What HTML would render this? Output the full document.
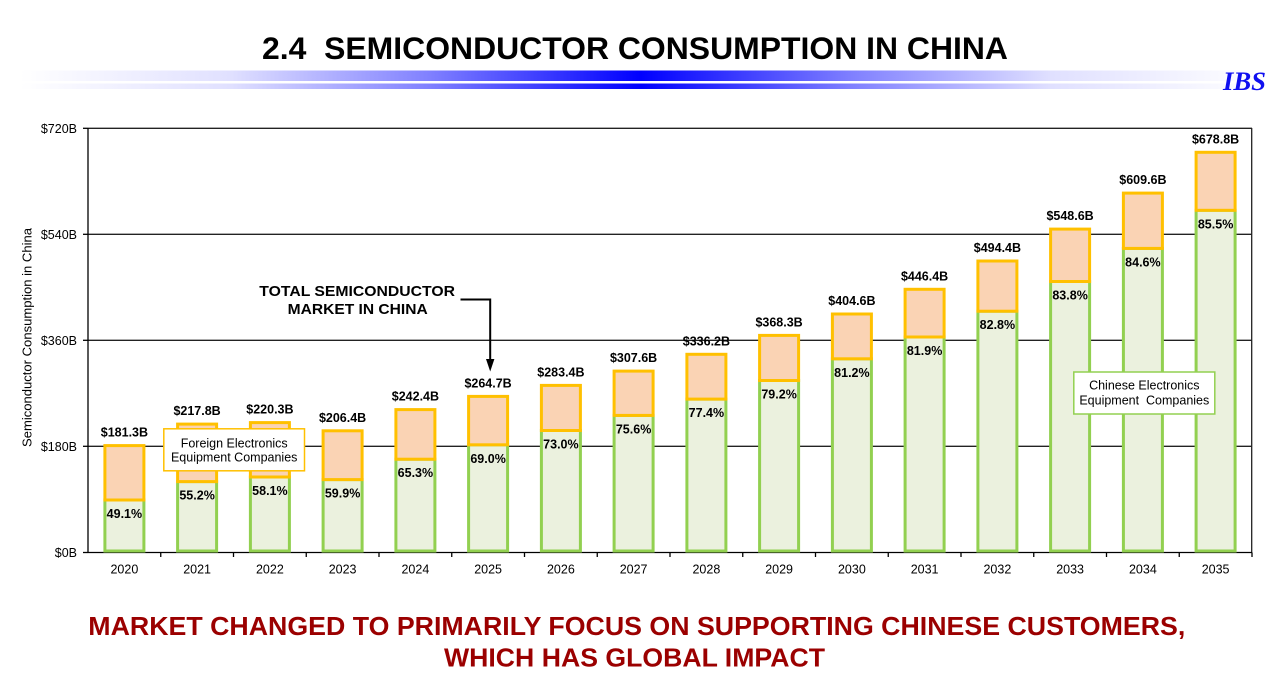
<!DOCTYPE html>
<html><head><meta charset="utf-8"><style>
html,body{margin:0;padding:0;background:#fff;}
svg{display:block;}
text{font-family:"Liberation Sans",Arial,sans-serif;}
</style></head><body>
<svg width="1275" height="681" viewBox="0 0 1275 681" xmlns="http://www.w3.org/2000/svg">
<defs>
<linearGradient id="gb" x1="20" y1="0" x2="1262" y2="0" gradientUnits="userSpaceOnUse">
<stop offset="0" stop-color="#ffffff"/>
<stop offset="0.17" stop-color="#e0e0ff"/>
<stop offset="0.33" stop-color="#8080ff"/>
<stop offset="0.5" stop-color="#0000ff"/>
<stop offset="0.67" stop-color="#8080ff"/>
<stop offset="0.83" stop-color="#e0e0ff"/>
<stop offset="1" stop-color="#ffffff"/>
</linearGradient>
</defs>
<rect width="1275" height="681" fill="#fff"/>
<!-- Title -->
<text x="262" y="59" font-size="31.5" font-weight="bold" fill="#000" textLength="746" lengthAdjust="spacingAndGlyphs" style="white-space:pre">2.4  SEMICONDUCTOR CONSUMPTION IN CHINA</text>
<rect x="20" y="70.5" width="1242" height="10.5" fill="url(#gb)"/>
<rect x="20" y="83.5" width="1242" height="5.5" fill="url(#gb)"/>
<text x="1223" y="90" font-family="Liberation Serif, serif" font-size="26" font-weight="bold" font-style="italic" fill="#1010f0" textLength="43" lengthAdjust="spacingAndGlyphs" style="font-family:'Liberation Serif',serif">IBS</text>

<!-- Plot frame and gridlines -->
<g stroke="#222" stroke-width="1.3" fill="none">
<line x1="88" y1="128.3" x2="1252" y2="128.3"/>
<line x1="88" y1="234.3" x2="1252" y2="234.3"/>
<line x1="88" y1="340.3" x2="1252" y2="340.3"/>
<line x1="88" y1="446.3" x2="1252" y2="446.3"/>
<line x1="1251.7" y1="128" x2="1251.7" y2="552.5"/>
</g>
<g stroke="#000" stroke-width="1.3">
<line x1="88" y1="128" x2="88" y2="553"/>
<line x1="88" y1="552.5" x2="1252" y2="552.5"/>
<line x1="83" y1="128.3" x2="88" y2="128.3"/>
<line x1="83" y1="234.3" x2="88" y2="234.3"/>
<line x1="83" y1="340.3" x2="88" y2="340.3"/>
<line x1="83" y1="446.3" x2="88" y2="446.3"/>
<line x1="83" y1="552.5" x2="88" y2="552.5"/>
<line x1="160.75" y1="552.5" x2="160.75" y2="557"/>
<line x1="233.5" y1="552.5" x2="233.5" y2="557"/>
<line x1="306.25" y1="552.5" x2="306.25" y2="557"/>
<line x1="379" y1="552.5" x2="379" y2="557"/>
<line x1="451.75" y1="552.5" x2="451.75" y2="557"/>
<line x1="524.5" y1="552.5" x2="524.5" y2="557"/>
<line x1="597.25" y1="552.5" x2="597.25" y2="557"/>
<line x1="670" y1="552.5" x2="670" y2="557"/>
<line x1="742.75" y1="552.5" x2="742.75" y2="557"/>
<line x1="815.5" y1="552.5" x2="815.5" y2="557"/>
<line x1="888.25" y1="552.5" x2="888.25" y2="557"/>
<line x1="961" y1="552.5" x2="961" y2="557"/>
<line x1="1033.75" y1="552.5" x2="1033.75" y2="557"/>
<line x1="1106.5" y1="552.5" x2="1106.5" y2="557"/>
<line x1="1179.25" y1="552.5" x2="1179.25" y2="557"/>
<line x1="1252" y1="552.5" x2="1252" y2="557"/>
</g>

<!-- Y axis labels -->
<g font-size="12.5" fill="#000" text-anchor="end">
<text x="77" y="133">$720B</text>
<text x="77" y="239">$540B</text>
<text x="77" y="345">$360B</text>
<text x="77" y="451">$180B</text>
<text x="77" y="557">$0B</text>
</g>
<text transform="translate(31.5,337.5) rotate(-90)" text-anchor="middle" font-size="12.5" fill="#000" textLength="219" lengthAdjust="spacingAndGlyphs">Semiconductor Consumption in China</text>

<!-- Bars: green (Chinese) -->
<g fill="#EBF1DE" stroke="#92D050" stroke-width="3">
<rect x="104.9" y="500.0" width="39" height="51.0"/>
<rect x="177.6" y="481.6" width="39" height="69.4"/>
<rect x="250.4" y="477.0" width="39" height="74.0"/>
<rect x="323.1" y="479.6" width="39" height="71.4"/>
<rect x="395.9" y="459.2" width="39" height="91.8"/>
<rect x="468.6" y="444.8" width="39" height="106.2"/>
<rect x="541.4" y="430.5" width="39" height="120.5"/>
<rect x="614.1" y="415.4" width="39" height="135.6"/>
<rect x="686.9" y="399.1" width="39" height="151.9"/>
<rect x="759.6" y="380.5" width="39" height="170.5"/>
<rect x="832.4" y="358.8" width="39" height="192.2"/>
<rect x="905.1" y="337.0" width="39" height="214.0"/>
<rect x="977.9" y="311.2" width="39" height="239.8"/>
<rect x="1050.6" y="281.5" width="39" height="269.5"/>
<rect x="1123.4" y="248.4" width="39" height="302.6"/>
<rect x="1196.1" y="210.3" width="39" height="340.7"/>
</g>
<!-- Bars: orange (Foreign) -->
<g fill="#FAD3B4" stroke="#FFC000" stroke-width="3">
<rect x="104.9" y="445.6" width="39" height="54.4"/>
<rect x="177.6" y="424.1" width="39" height="57.5"/>
<rect x="250.4" y="422.6" width="39" height="54.4"/>
<rect x="323.1" y="430.8" width="39" height="48.8"/>
<rect x="395.9" y="409.6" width="39" height="49.6"/>
<rect x="468.6" y="396.4" width="39" height="48.4"/>
<rect x="541.4" y="385.4" width="39" height="45.1"/>
<rect x="614.1" y="371.1" width="39" height="44.3"/>
<rect x="686.9" y="354.3" width="39" height="44.8"/>
<rect x="759.6" y="335.4" width="39" height="45.1"/>
<rect x="832.4" y="314.0" width="39" height="44.8"/>
<rect x="905.1" y="289.3" width="39" height="47.7"/>
<rect x="977.9" y="261.0" width="39" height="50.2"/>
<rect x="1050.6" y="229.1" width="39" height="52.4"/>
<rect x="1123.4" y="193.1" width="39" height="55.3"/>
<rect x="1196.1" y="152.3" width="39" height="58.0"/>
</g>

<!-- Value labels -->
<g font-size="12.5" font-weight="bold" fill="#000" text-anchor="middle">
<text x="124.4" y="436.6">$181.3B</text>
<text x="197.1" y="415.1">$217.8B</text>
<text x="269.9" y="413.6">$220.3B</text>
<text x="342.6" y="421.8">$206.4B</text>
<text x="415.4" y="400.6">$242.4B</text>
<text x="488.1" y="387.4">$264.7B</text>
<text x="560.9" y="376.4">$283.4B</text>
<text x="633.6" y="362.1">$307.6B</text>
<text x="706.4" y="345.3">$336.2B</text>
<text x="779.1" y="326.4">$368.3B</text>
<text x="851.9" y="305.0">$404.6B</text>
<text x="924.6" y="280.3">$446.4B</text>
<text x="997.4" y="252.0">$494.4B</text>
<text x="1070.1" y="220.1">$548.6B</text>
<text x="1142.9" y="184.1">$609.6B</text>
<text x="1215.6" y="143.3">$678.8B</text>
</g>
<!-- Percent labels -->
<g font-size="12.5" font-weight="bold" fill="#000" text-anchor="middle">
<text x="124.4" y="518.0">49.1%</text>
<text x="197.1" y="499.6">55.2%</text>
<text x="269.9" y="495.0">58.1%</text>
<text x="342.6" y="497.6">59.9%</text>
<text x="415.4" y="477.2">65.3%</text>
<text x="488.1" y="462.8">69.0%</text>
<text x="560.9" y="448.5">73.0%</text>
<text x="633.6" y="433.4">75.6%</text>
<text x="706.4" y="417.1">77.4%</text>
<text x="779.1" y="398.5">79.2%</text>
<text x="851.9" y="376.8">81.2%</text>
<text x="924.6" y="355.0">81.9%</text>
<text x="997.4" y="329.2">82.8%</text>
<text x="1070.1" y="299.5">83.8%</text>
<text x="1142.9" y="266.4">84.6%</text>
<text x="1215.6" y="228.3">85.5%</text>
</g>

<!-- X labels -->
<g font-size="12.5" fill="#000" text-anchor="middle">
<text x="124.4" y="573.3">2020</text>
<text x="197.1" y="573.3">2021</text>
<text x="269.9" y="573.3">2022</text>
<text x="342.6" y="573.3">2023</text>
<text x="415.4" y="573.3">2024</text>
<text x="488.1" y="573.3">2025</text>
<text x="560.9" y="573.3">2026</text>
<text x="633.6" y="573.3">2027</text>
<text x="706.4" y="573.3">2028</text>
<text x="779.1" y="573.3">2029</text>
<text x="851.9" y="573.3">2030</text>
<text x="924.6" y="573.3">2031</text>
<text x="997.4" y="573.3">2032</text>
<text x="1070.1" y="573.3">2033</text>
<text x="1142.9" y="573.3">2034</text>
<text x="1215.6" y="573.3">2035</text>
</g>

<!-- Legend boxes -->
<rect x="163.8" y="428.8" width="140.7" height="42" fill="#fff" stroke="#FFC000" stroke-width="1.5"/>
<g font-size="12.5" fill="#000" text-anchor="middle">
<text x="234.2" y="447.3">Foreign Electronics</text>
<text x="234.2" y="461.7">Equipment Companies</text>
</g>
<rect x="1073.8" y="372" width="141" height="42" fill="#fff" stroke="#92D050" stroke-width="1.5"/>
<g font-size="12.5" fill="#000" text-anchor="middle">
<text x="1144.3" y="389.3">Chinese Electronics</text>
<text x="1144.3" y="404.3" style="white-space:pre">Equipment  Companies</text>
</g>

<!-- Annotation -->
<text x="259.3" y="296" font-size="15" font-weight="bold" fill="#000" textLength="195.7" lengthAdjust="spacingAndGlyphs">TOTAL SEMICONDUCTOR</text>
<text x="287.7" y="314" font-size="15" font-weight="bold" fill="#000" textLength="140" lengthAdjust="spacingAndGlyphs">MARKET IN CHINA</text>
<polyline points="460.5,299.5 490.2,299.5 490.2,361" fill="none" stroke="#000" stroke-width="2"/>
<polygon points="486,359 494.4,359 490.2,371.5" fill="#000"/>

<!-- Bottom text -->
<text x="88.3" y="635" font-size="25.5" font-weight="bold" fill="#9B0000" textLength="1097" lengthAdjust="spacingAndGlyphs">MARKET CHANGED TO PRIMARILY FOCUS ON SUPPORTING CHINESE CUSTOMERS,</text>
<text x="444" y="666.7" font-size="25.5" font-weight="bold" fill="#9B0000" textLength="381" lengthAdjust="spacingAndGlyphs">WHICH HAS GLOBAL IMPACT</text>
</svg>
</body></html>
